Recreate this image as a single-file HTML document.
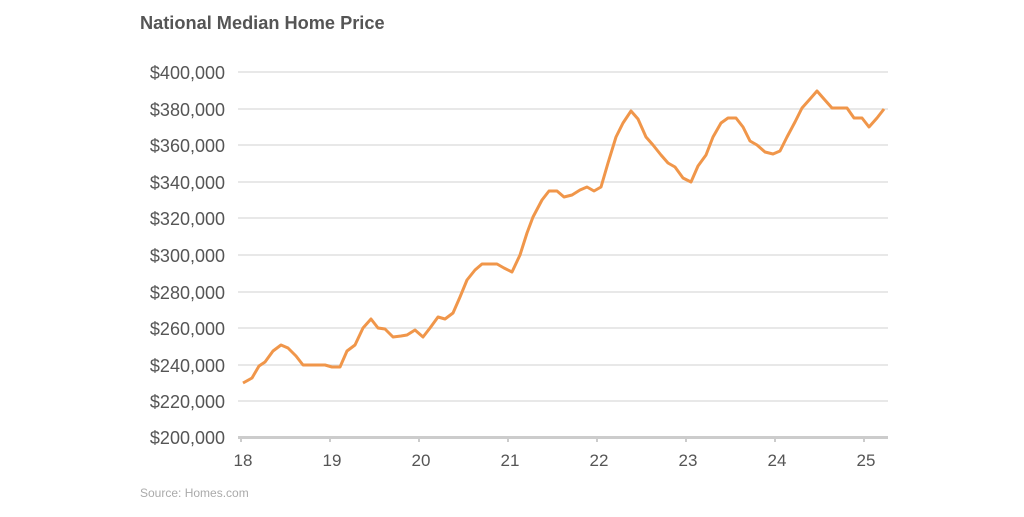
<!DOCTYPE html>
<html><head><meta charset="utf-8"><style>
body{margin:0;background:#fff;width:1024px;height:512px;overflow:hidden;font-family:"Liberation Sans",Arial,sans-serif}
</style></head><body>
<svg width="1024" height="512" xmlns="http://www.w3.org/2000/svg" font-family="Liberation Sans, Arial, sans-serif">
<text x="140" y="29" font-size="18.2" font-weight="bold" fill="#555">National Median Home Price</text>
<g stroke="#d9d9d9" stroke-width="1.3">
<line x1="238" x2="888" y1="72" y2="72"/><line x1="238" x2="888" y1="109" y2="109"/>
<line x1="238" x2="888" y1="145" y2="145"/><line x1="238" x2="888" y1="182" y2="182"/>
<line x1="238" x2="888" y1="218" y2="218"/><line x1="238" x2="888" y1="255" y2="255"/>
<line x1="238" x2="888" y1="292" y2="292"/><line x1="238" x2="888" y1="328" y2="328"/>
<line x1="238" x2="888" y1="365" y2="365"/><line x1="238" x2="888" y1="401" y2="401"/>
</g>
<line x1="238" x2="888" y1="437.5" y2="437.5" stroke="#ccc" stroke-width="3"/>
<g stroke="#ccc" stroke-width="2">
<line x1="241" x2="241" y1="437" y2="442"/><line x1="330" x2="330" y1="437" y2="442"/>
<line x1="419" x2="419" y1="437" y2="442"/><line x1="508" x2="508" y1="437" y2="442"/>
<line x1="597" x2="597" y1="437" y2="442"/><line x1="686" x2="686" y1="437" y2="442"/>
<line x1="775" x2="775" y1="437" y2="442"/><line x1="864" x2="864" y1="437" y2="442"/>
</g>
<g font-size="18" fill="#555" text-anchor="end">
<text x="225" y="79">$400,000</text><text x="225" y="116">$380,000</text>
<text x="225" y="152">$360,000</text><text x="225" y="189">$340,000</text>
<text x="225" y="225">$320,000</text><text x="225" y="262">$300,000</text>
<text x="225" y="299">$280,000</text><text x="225" y="335">$260,000</text>
<text x="225" y="372">$240,000</text><text x="225" y="408">$220,000</text>
<text x="225" y="444">$200,000</text>
</g>
<g font-size="17" fill="#555" text-anchor="middle">
<text x="243" y="466">18</text><text x="332" y="466">19</text><text x="421" y="466">20</text>
<text x="510" y="466">21</text><text x="599" y="466">22</text><text x="688" y="466">23</text>
<text x="777" y="466">24</text><text x="866" y="466">25</text>
</g>
<text x="140" y="497" font-size="12" fill="#aaa">Source: Homes.com</text>
<polyline fill="none" stroke="#f0964a" stroke-width="3" stroke-linejoin="round" points="243,383 252,378 259,366 265,362 273,351 281,345 288,348 296,356 303,365 325,365 332,367 340,367 347,351 355,345 363,328 371,319 378,328 385,329 393,337 401,336 407,335 415,330 423,337 430,328 438,317 445,319 453,313 460,297 467,280 475,270 482,264 497,264 504,268 512,272 520,255 527,233 533,217 542,200 549,191 557,191 564,197 572,195 580,190 587,187 594,191 601,187 608,163 616,137 623,123 631,111 638,119 646,137 653,145 661,155 668,163 675,167 683,178 691,182 698,166 706,155 713,137 721,123 728,118 736,118 743,127 750,141 757,145 765,152 773,154 780,151 787,137 795,122 802,108 810,99 817,91 824,99 832,108 847,108 854,118 862,118 869,127 877,118 884,109"/>
</svg>
</body></html>
